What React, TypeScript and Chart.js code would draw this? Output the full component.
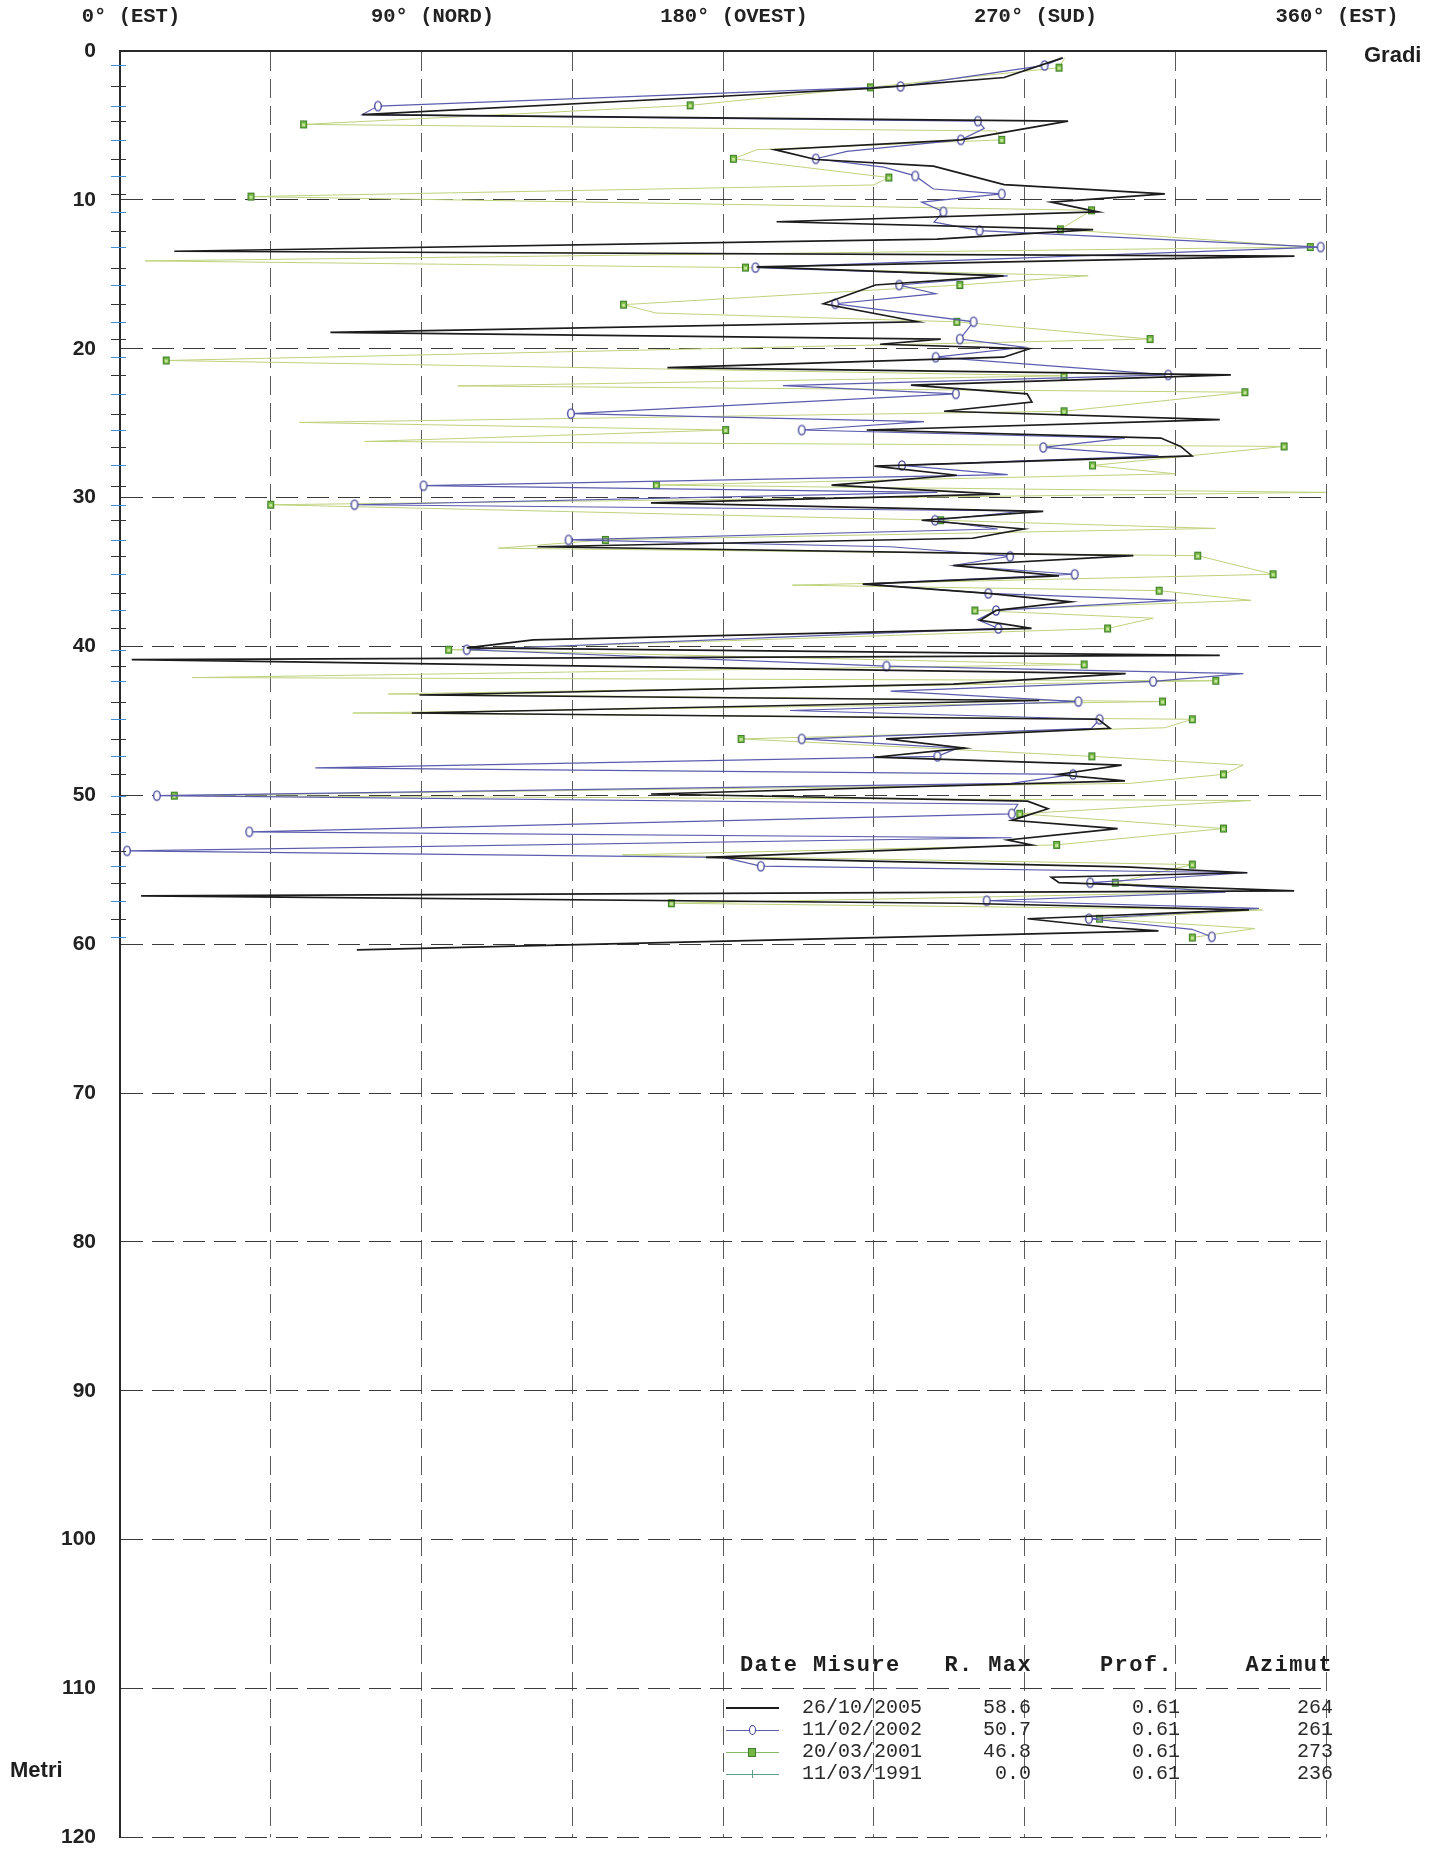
import React, { useEffect, useRef } from 'react';
import { Chart, registerables } from 'chart.js';

Chart.register(...registerables);

// ---- axis text ----
const TOP_LABELS = ['0° (EST)', '90° (NORD)', '180° (OVEST)', '270° (SUD)', '360° (EST)'];
const X_TITLE = 'Gradi';
const Y_TITLE = 'Metri';

// ---- legend table ----
const LEGEND_HEAD = ['Date Misure', 'R. Max', 'Prof.', 'Azimut'];
const LEG_DATES = ['26/10/2005', '11/02/2002', '20/03/2001', '11/03/1991'];
const LEG_RMAX = ['58.6', '50.7', '46.8', '0.0'];
const LEG_PROF = ['0.61', '0.61', '0.61', '0.61'];
const LEG_AZIMUT = ['264', '261', '273', '236'];

// ---- 26/10/2005 (depth m, azimuth deg) ----
const BLACK_DEPTH = [
  0.46, 1.78, 2.51, 3.04, 4.27, 4.71, 5.97, 6.63, 7.29, 7.73,
  8.98, 9.6, 10.15, 10.81, 11.47, 12.0, 12.64, 13.45, 13.78, 14.5,
  15.1, 15.72, 16.98, 18.19, 18.9, 19.35, 19.7, 20.0, 20.57, 21.27,
  21.76, 22.44, 23.03, 23.58, 24.2, 24.76, 25.46, 26.0, 26.56, 27.2,
  27.88, 28.5, 29.16, 29.76, 30.35, 30.92, 31.52, 32.11, 32.73, 33.3,
  33.9, 34.56, 35.26, 35.81, 36.43, 37.0, 37.58, 38.24, 38.79, 39.56,
  40.1, 40.6, 40.88, 41.83, 42.53, 43.26, 43.63, 44.47, 44.89, 45.5,
  46.21, 46.83, 47.44, 47.97, 48.6, 49.03, 49.91, 50.39, 50.9, 51.68,
  52.23, 53.0, 53.33, 54.17, 54.8, 55.2, 55.5, 55.87, 56.42, 56.75,
  57.25, 57.7, 58.29, 58.88, 59.1, 60.38,
];
const BLACK_AZ = [
  281.4, 263.9, 224.1, 179.6, 72.3, 283, 251, 195.5, 207.7, 242.8,
  263.9, 311.9, 278, 292, 196, 290.5, 243.9, 16.2, 350.6, 190,
  263.7, 225.5, 210, 238.2, 62.8, 245, 226.9, 271.5, 263.7, 163.4,
  331.6, 236.1, 270.8, 272.2, 246, 328.3, 222.9, 310.7, 316.6, 320,
  225.2, 249.8, 212.4, 262.7, 158.5, 275.6, 239.3, 269.7, 254.5, 124.6,
  302.5, 248.7, 280.3, 221.7, 259.2, 283.8, 261.5, 256.8, 272.1, 123.4,
  103.5, 328.3, 3.5, 300.2, 248.7, 89.4, 274.4, 87.1, 292, 295.5,
  228.7, 252.2, 225.2, 299, 280, 300, 158.5, 270.9, 277, 266.2,
  297.8, 265, 272.1, 174.9, 300, 336.5, 278, 280.3, 350.5, 6.3,
  251, 337, 270.9, 295.5, 310, 70.7,
];

// ---- 11/02/2002 ----
const BLUE_DEPTH = [
  0.46, 0.97, 2.38, 3.7, 4.27, 4.71, 5.2, 5.97, 6.74, 7.24,
  7.8, 8.39, 9.27, 9.6, 10.15, 10.8, 11.5, 12.06, 13.17, 14.55,
  15.1, 15.72, 16.3, 16.98, 18.19, 19.35, 19.9, 20.57, 21.76, 22.48,
  23.03, 24.36, 24.9, 25.46, 26.0, 26.63, 27.2, 27.84, 28.46, 29.2,
  29.65, 30.48, 30.9, 31.52, 32.11, 32.84, 33.3, 33.94, 34.56, 35.15,
  35.8, 36.43, 36.9, 37.58, 38.2, 38.79, 40.22, 41.32, 41.83, 42.35,
  43.0, 43.7, 44.3, 44.89, 45.5, 46.21, 46.83, 47.38, 48.15, 48.59,
  49.2, 50.02, 50.6, 51.24, 52.45, 52.85, 53.73, 54.17, 54.76, 55.2,
  55.87, 56.5, 57.08, 57.6, 58.29, 59.0, 59.5,
];
const BLUE_AZ = [
  281.4, 276, 233, 77, 72.3, 256.1, 258, 251, 217, 207.7,
  228, 237.4, 242.8, 263.2, 239.3, 245.8, 243, 256.6, 358.4, 189.7,
  265, 232.6, 243.5, 213.5, 254.8, 250.7, 270, 243.5, 312.9, 197.9,
  249.5, 134.6, 240, 203.5, 300, 275.6, 310, 233.4, 265, 90.6,
  244, 70, 270, 243.3, 262, 133.9, 230, 265.7, 248.7, 285,
  222, 259.2, 315.4, 261.5, 256, 262.2, 103.5, 228.8, 335.3, 308.4,
  230, 286.1, 200, 292.4, 290, 203.5, 250, 244, 58.3, 284.5,
  266, 11, 268, 266.2, 38.6, 266.2, 2.1, 180, 191.3, 336.5,
  289.6, 330, 258.7, 340, 289.2, 320, 325.9,
];
const BLUE_MARK = [
  0, 1, 1, 1, 0, 1, 0, 1, 0, 1,
  0, 1, 0, 1, 0, 1, 0, 1, 1, 1,
  0, 1, 0, 1, 1, 1, 0, 1, 1, 0,
  1, 1, 0, 1, 0, 1, 0, 1, 0, 1,
  0, 1, 0, 1, 0, 1, 0, 1, 0, 1,
  0, 1, 0, 1, 0, 1, 1, 1, 0, 1,
  0, 1, 0, 1, 0, 1, 0, 1, 0, 1,
  0, 1, 0, 1, 1, 0, 1, 0, 1, 0,
  1, 0, 1, 0, 1, 0, 1,
];

// ---- 20/03/2001 ----
const GREEN_DEPTH = [
  0.46, 1.12, 2.44, 3.65, 4.93, 5.37, 5.97, 6.63, 7.24, 8.5,
  9.0, 9.78, 10.7, 11.98, 13.17, 14.1, 14.55, 15.1, 15.72, 17.04,
  17.6, 18.19, 19.35, 20.79, 21.82, 22.5, 22.92, 24.2, 24.95, 25.46,
  26.23, 26.56, 27.84, 28.4, 29.16, 29.65, 30.48, 31.52, 32.07, 32.84,
  33.4, 33.9, 35.15, 35.88, 36.25, 36.9, 37.58, 38.1, 38.79, 40.22,
  41.21, 42.09, 42.3, 43.19, 43.7, 44.47, 44.89, 45.46, 46.21, 47.38,
  47.97, 48.59, 49.2, 50.02, 50.35, 51.24, 52.23, 53.33, 54.0, 54.65,
  55.87, 56.5, 57.25, 57.7, 58.29, 58.95, 59.55,
];
const GREEN_AZ = [
  282, 280.3, 224, 170.2, 54.8, 261.5, 263.2, 190.1, 183.1, 229.5,
  225, 39.1, 290, 280.7, 355.3, 7.5, 186.7, 289, 250.7, 150.3,
  160, 249.8, 307.5, 13.8, 281.8, 100.8, 335.8, 281.8, 53.5, 180.8,
  73, 347.5, 290.3, 315, 160.1, 359.9, 45, 245, 327, 144.9,
  112.9, 321.7, 344.2, 200.7, 310.2, 337.6, 255.2, 308.4, 294.8, 98.1,
  287.8, 21.5, 327.1, 80.1, 311.2, 69.5, 320.1, 311.9, 185.4, 290.1,
  335.3, 329.4, 301.3, 16.2, 337.6, 268.6, 329.4, 279.6, 150, 320.1,
  297.1, 330, 164.6, 341.1, 292.4, 338.8, 320.1,
];
const GREEN_MARK = [
  0, 1, 1, 1, 1, 0, 1, 0, 1, 1,
  0, 1, 1, 1, 1, 0, 1, 0, 1, 1,
  0, 1, 1, 1, 1, 0, 1, 1, 0, 1,
  0, 1, 1, 0, 1, 0, 1, 1, 0, 1,
  0, 1, 1, 0, 1, 0, 1, 0, 1, 1,
  1, 0, 1, 0, 1, 0, 1, 0, 1, 1,
  0, 1, 0, 1, 0, 1, 1, 1, 0, 1,
  1, 0, 1, 0, 1, 0, 1,
];

const C_BLACK = '#1c1c1c';
const C_BLUE = '#5c5cae';
const C_BLUE_MK = '#3e3e96';
const C_GREEN_LINE = '#bfd27e';
const C_GREEN_MK = '#74b843';
const C_GREEN_MK_B = '#3f7f2a';
const C_TEAL = '#5f9c8a';

function makeEllipse(): HTMLCanvasElement {
  const c = document.createElement('canvas');
  c.width = 10; c.height = 13;
  const g = c.getContext('2d')!;
  g.beginPath();
  g.ellipse(5, 6.5, 3.3, 4.6, 0, 0, Math.PI * 2);
  g.fillStyle = '#ffffff';
  g.fill();
  g.lineWidth = 1.3;
  g.strokeStyle = C_BLUE_MK;
  g.stroke();
  return c;
}

function makeSquare(): HTMLCanvasElement {
  const c = document.createElement('canvas');
  c.width = 9; c.height = 10;
  const g = c.getContext('2d')!;
  g.fillStyle = C_GREEN_MK;
  g.fillRect(1, 1, 7, 8);
  g.strokeStyle = C_GREEN_MK_B;
  g.lineWidth = 1;
  g.strokeRect(1.5, 1.5, 6, 7);
  g.fillStyle = '#c4e49a';
  g.fillRect(3, 4, 3, 3);
  return c;
}

const tickDepths = BLUE_DEPTH.filter((_, i) => BLUE_MARK[i] === 1);

const minorTicks = {
  id: 'minorTicks',
  afterDraw(chart: any) {
    const { ctx, chartArea, scales } = chart;
    ctx.save();
    ctx.lineWidth = 1;
    tickDepths.forEach((d, i) => {
      const py = Math.round(scales.y.getPixelForValue(d)) + 0.5;
      ctx.strokeStyle = i % 2 === 0 ? '#3f8fd6' : '#333333';
      ctx.beginPath();
      ctx.moveTo(chartArea.left - 9, py);
      ctx.lineTo(chartArea.left + 6, py);
      ctx.stroke();
    });
    ctx.restore();
  },
};

function toPts(depth: number[], az: number[]) {
  return depth.map((d, i) => ({ x: az[i], y: d }));
}

function ChartCanvas() {
  const ref = useRef<HTMLCanvasElement | null>(null);
  useEffect(() => {
    if (!ref.current) return;
    const ell = makeEllipse();
    const sq = makeSquare();
    const chart = new Chart(ref.current, {
      type: 'scatter',
      data: {
        datasets: [
          {
            label: LEG_DATES[0],
            data: toPts(BLACK_DEPTH, BLACK_AZ),
            showLine: true,
            borderColor: C_BLACK,
            borderWidth: 1.7,
            pointRadius: 0,
          },
          {
            label: LEG_DATES[1],
            data: toPts(BLUE_DEPTH, BLUE_AZ),
            showLine: true,
            borderColor: C_BLUE,
            borderWidth: 1.2,
            pointStyle: ell as any,
            pointRadius: BLUE_MARK.map((m) => (m ? 4 : 0)),
          },
          {
            label: LEG_DATES[2],
            data: toPts(GREEN_DEPTH, GREEN_AZ),
            showLine: true,
            borderColor: C_GREEN_LINE,
            borderWidth: 1,
            pointStyle: sq as any,
            pointRadius: GREEN_MARK.map((m) => (m ? 4 : 0)),
          },
        ],
      },
      options: {
        animation: false,
        responsive: false,
        devicePixelRatio: 1,
        layout: { padding: { left: 0, top: 0, right: 117, bottom: 7 } },
        plugins: { legend: { display: false }, tooltip: { enabled: false } },
        scales: {
          x: {
            type: 'linear',
            position: 'top',
            min: 0,
            max: 360,
            afterFit: (s: any) => { s.height = 51; },
            ticks: {
              stepSize: 45,
              autoSkip: false,
              maxRotation: 0,
              padding: 22,
              labelOffset: 11,
              color: '#222',
              font: { family: 'Liberation Mono', size: 20.5, weight: 'bold' },
              callback: (v: any) => (Number(v) % 90 === 0 ? TOP_LABELS[Number(v) / 90] : ''),
            },
            grid: { color: '#5a5a5a', lineWidth: 1, drawTicks: false },
            border: { display: true, color: '#2a2a2a', width: 2, dash: [19, 8] },
          },
          y: {
            type: 'linear',
            reverse: true,
            min: 0,
            max: 120,
            afterFit: (s: any) => { s.width = 120; },
            ticks: {
              stepSize: 10,
              padding: 24,
              color: '#222',
              font: { family: 'Liberation Sans', size: 21, weight: 'bold' },
            },
            grid: { color: '#3a3a3a', lineWidth: 1, drawTicks: false },
            border: { display: true, color: '#2a2a2a', width: 2, dash: [22, 9] },
          },
        },
      },
      plugins: [minorTicks],
    } as any);
    return () => chart.destroy();
  }, []);
  return <canvas ref={ref} width={1443} height={1874} style={{ position: 'absolute', left: 0, top: 0, width: 1443, height: 1874 }} />;
}

const mono = "'Liberation Mono', 'DejaVu Sans Mono', monospace";
const sans = "'Liberation Sans', Arial, sans-serif";

function Legend() {
  const rowY = [1708, 1730, 1752, 1774];
  const headY = 1666;
  const cell = (text: string, style: React.CSSProperties, key: string) => (
    <div key={key} style={{ position: 'absolute', whiteSpace: 'pre', lineHeight: '22px', ...style }}>{text}</div>
  );
  const head: React.CSSProperties = { fontFamily: mono, fontWeight: 'bold', fontSize: 22, letterSpacing: 1.4, color: '#1e1e1e', top: headY - 11 };
  const row: React.CSSProperties = { fontFamily: mono, fontSize: 20, color: '#2a2a2a' };
  const out: React.ReactNode[] = [];
  out.push(cell(LEGEND_HEAD[0], { ...head, left: 740 }, 'h0'));
  out.push(cell(LEGEND_HEAD[1], { ...head, right: 1443 - 1032 }, 'h1'));
  out.push(cell(LEGEND_HEAD[2], { ...head, right: 1443 - 1173 }, 'h2'));
  out.push(cell(LEGEND_HEAD[3], { ...head, right: 1443 - 1333 }, 'h3'));
  LEG_DATES.forEach((d, i) => {
    const y = rowY[i];
    out.push(cell(d, { ...row, left: 802, top: y - 11 }, 'd' + i));
    out.push(cell(LEG_RMAX[i], { ...row, right: 1443 - 1031, top: y - 11 }, 'r' + i));
    out.push(cell(LEG_PROF[i], { ...row, right: 1443 - 1180, top: y - 11 }, 'p' + i));
    out.push(cell(LEG_AZIMUT[i], { ...row, right: 1443 - 1333, top: y - 11 }, 'a' + i));
    const lineColor = [C_BLACK, C_BLUE, '#86b86a', C_TEAL][i];
    out.push(<div key={'l' + i} style={{ position: 'absolute', left: 726, top: y - (i === 0 ? 1 : 0.5), width: 53, height: i === 0 ? 1.6 : 1, background: lineColor }} />);
    if (i === 1) out.push(<div key="m1" style={{ position: 'absolute', left: 749, top: y - 5, width: 5, height: 8, border: `1.3px solid ${C_BLUE_MK}`, borderRadius: '50%', background: '#fff' }} />);
    if (i === 2) out.push(<div key="m2" style={{ position: 'absolute', left: 748, top: y - 4, width: 6, height: 7, border: `1px solid ${C_GREEN_MK_B}`, background: C_GREEN_MK }} />);
    if (i === 3) out.push(<div key="m3" style={{ position: 'absolute', left: 752, top: y - 4, width: 1, height: 8, background: C_TEAL }} />);
  });
  return <>{out}</>;
}

export default function App() {
  return (
    <div style={{ position: 'absolute', left: 0, top: 0, width: 1443, height: 1874, background: '#fff', overflow: 'hidden' }}>
      <ChartCanvas />
      <div style={{ position: 'absolute', left: 1364, top: 42, fontFamily: sans, fontWeight: 'bold', fontSize: 22, color: '#1e1e1e', lineHeight: '26px' }}>{X_TITLE}</div>
      <div style={{ position: 'absolute', left: 10, top: 1757, fontFamily: sans, fontWeight: 'bold', fontSize: 22, color: '#1e1e1e', lineHeight: '26px' }}>{Y_TITLE}</div>
      <Legend />
    </div>
  );
}
